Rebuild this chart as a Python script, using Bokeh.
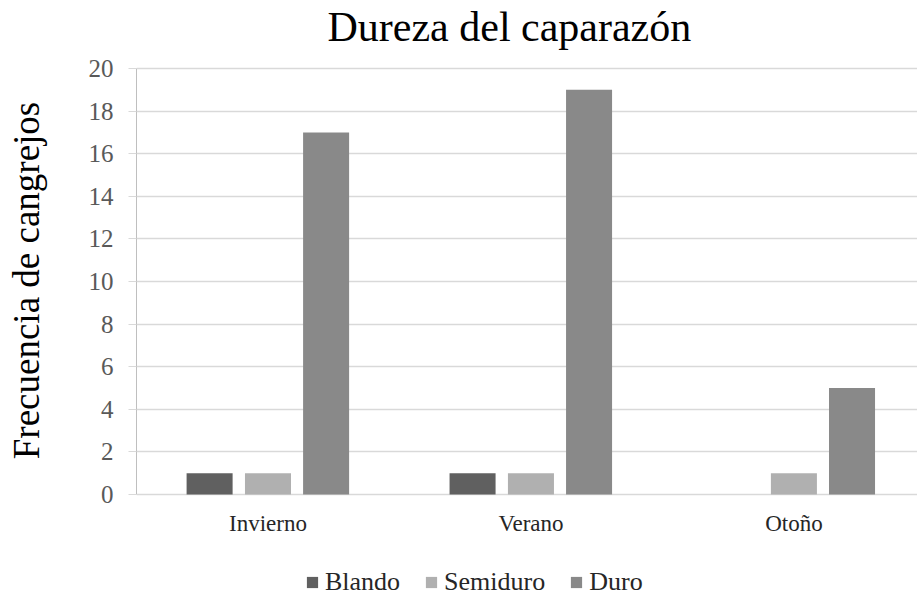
from bokeh.plotting import figure
from bokeh.models import Range1d, Legend, LegendItem, FixedTicker, ColumnDataSource, Label
from bokeh.core.properties import value
from bokeh.transform import dodge
from bokeh.embed import file_html
from bokeh.resources import INLINE

title_text = "Dureza del caparazón"
y_label = "Frecuencia de cangrejos"
categories = ["Invierno", "Verano", "Otoño"]
blando = [1, 1, 0]
semiduro = [1, 1, 1]
duro = [17, 19, 5]
y_ticks = [0, 2, 4, 6, 8, 10, 12, 14, 16, 18, 20]
series_names = ["Blando", "Semiduro", "Duro"]

FONT = "Liberation Serif"
xpos = [i + 0.5 for i in range(len(categories))]
src = ColumnDataSource(dict(x=xpos, y0=[0] * len(categories), cat=categories,
                            blando=blando, semiduro=semiduro, duro=duro))

# frame fills full height; y=0 sits at 494px, y=20 at 68px
p = figure(width=917, height=597, output_backend="svg", toolbar_location=None, title=None,
           x_axis_location=None,
           x_range=Range1d(0, 2.970), y_range=Range1d(-4.836, 23.192),
           min_border_left=136, min_border_right=0, min_border_top=0, min_border_bottom=0)
p.outline_line_color = None
p.background_fill_color = "white"
p.border_fill_color = "white"

w = 0.175
r1 = p.vbar(x=dodge("x", -0.222, range=p.x_range), top="blando", width=w, source=src,
            fill_color="#606060", line_color=None)
r2 = p.vbar(x=dodge("x", 0.0, range=p.x_range), top="semiduro", width=w, source=src,
            fill_color="#b0b0b0", line_color=None)
r3 = p.vbar(x=dodge("x", 0.221, range=p.x_range), top="duro", width=w, source=src,
            fill_color="#898989", line_color=None)

# category labels under the baseline
p.text(x="x", y="y0", text="cat", source=src, y_offset=29,
       text_align="center", text_baseline="alphabetic",
       text_font=value(FONT), text_font_size="23px", text_color="#262626")

# title
p.add_layout(Label(x=191, y=571, x_units="screen", y_units="screen", text=title_text,
                   text_align="left", text_baseline="alphabetic",
                   text_font=FONT, text_font_size="42px", text_color="#000000"))

# y axis
p.yaxis.ticker = FixedTicker(ticks=y_ticks)
p.yaxis.bounds = (0, 20)
p.yaxis.major_tick_out = 8
p.yaxis.major_tick_in = 0
p.yaxis.minor_tick_out = 0
p.yaxis.minor_tick_in = 0
p.yaxis.major_tick_line_color = "#d9d9d9"
p.yaxis.axis_line_color = "#bfbfbf"
p.yaxis.major_label_text_font = FONT
p.yaxis.major_label_text_font_size = "25px"
p.yaxis.major_label_text_color = "#595959"
p.yaxis.major_label_standoff = 15
p.yaxis.axis_label = "\u00a0" * 4 + y_label
p.yaxis.axis_label_text_font = FONT
p.yaxis.axis_label_text_font_size = "37px"
p.yaxis.axis_label_text_font_style = "normal"
p.yaxis.axis_label_text_color = "#000000"
p.yaxis.axis_label_standoff = 39
p.ygrid.grid_line_color = "#d9d9d9"
p.ygrid.grid_line_width = 1.5
p.xgrid.grid_line_color = None

legend = Legend(items=[LegendItem(label=n, renderers=[r]) for n, r in zip(series_names, [r1, r2, r3])],
                orientation="horizontal", location=(169, 0),
                glyph_width=14, glyph_height=14, label_standoff=6, spacing=24,
                padding=0, margin=0, border_line_color=None, background_fill_alpha=0,
                label_text_font=FONT, label_text_font_size="26px", label_text_color="#262626")
p.add_layout(legend, "center")

open("out.html", "w").write(file_html(p, INLINE))
